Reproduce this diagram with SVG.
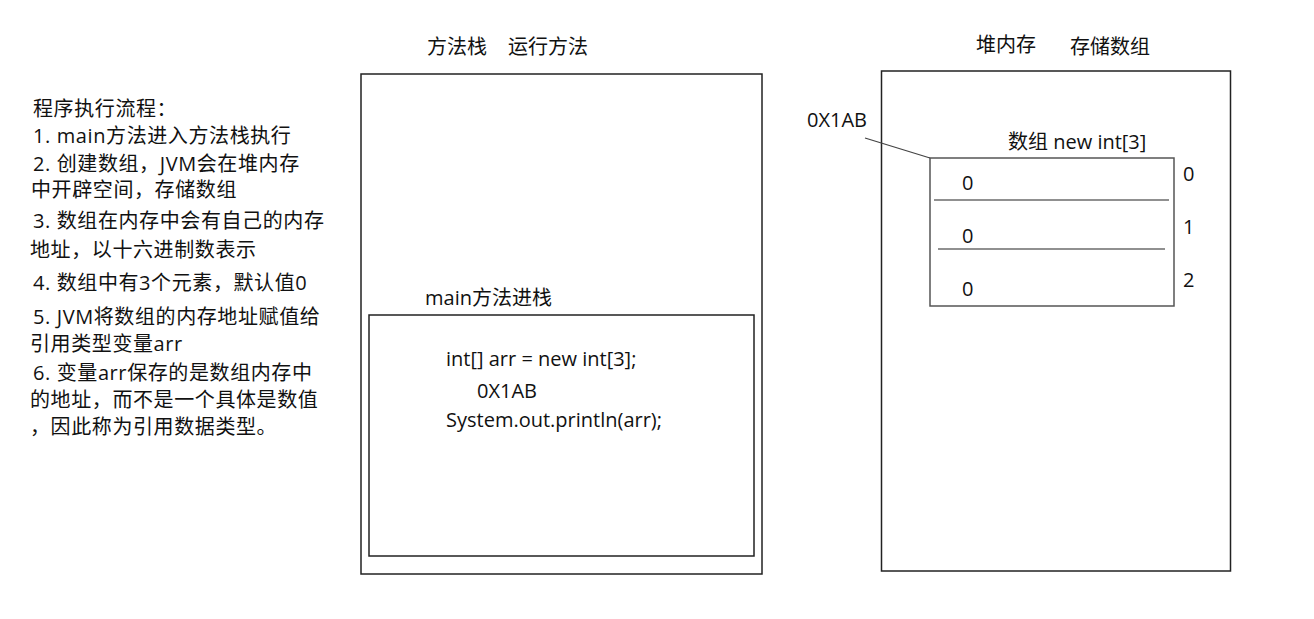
<svg xmlns="http://www.w3.org/2000/svg" width="1314" height="619" viewBox="0 0 1314 619">
<style>
text{font-family:"Open Sans","Noto Sans CJK SC",sans-serif;fill:#111;font-size:20px}
.l{font-size:20px;letter-spacing:0.6px}
.box{fill:none;stroke:#222;stroke-width:1.5}
.arr{fill:none;stroke:#555;stroke-width:1.5}
.sep{stroke:#222;stroke-width:1.2}
</style>
<rect width="1314" height="619" fill="#fff"/>
<g id="notes">
<text class="l" x="33" y="116">程序执行流程：</text>
<text class="l" x="33" y="143">1. main方法进入方法栈执行</text>
<text class="l" x="33" y="171">2. 创建数组，JVM会在堆内存</text>
<text class="l" x="31" y="197">中开辟空间，存储数组</text>
<text class="l" x="33" y="228">3. 数组在内存中会有自己的内存</text>
<text class="l" x="30" y="257">地址，以十六进制数表示</text>
<text class="l" x="33" y="290">4. 数组中有3个元素，默认值0</text>
<text class="l" x="33" y="324">5. JVM将数组的内存地址赋值给</text>
<text class="l" x="30" y="351">引用类型变量arr</text>
<text class="l" x="33" y="380">6. 变量arr保存的是数组内存中</text>
<text class="l" x="30" y="407">的地址，而不是一个具体是数值</text>
<text class="l" x="30" y="434">，因此称为引用数据类型。</text>
</g>
<g id="stack">
<text x="427" y="54">方法栈</text>
<text x="508" y="54">运行方法</text>
<rect class="box" x="361" y="74" width="401" height="500"/>
</g>
<g id="main-frame">
<text x="425" y="305">main方法进栈</text>
<rect class="box" x="369" y="315" width="385" height="241"/>
<text x="446" y="366" font-size="20.5">int[] arr = new int[3];</text>
<text x="477" y="398">0X1AB</text>
<text x="446" y="427">System.out.println(arr);</text>
</g>
<g id="heap">
<text x="976" y="52">堆内存</text>
<text x="1070" y="54">存储数组</text>
<rect class="box" x="881.5" y="71" width="349" height="500"/>
</g>
<g id="array">
<text x="1008" y="149">数组 new int[3]</text>
<rect class="arr" x="930" y="158" width="244" height="148"/>
<line class="sep" x1="934" y1="200" x2="1169" y2="200"/>
<line class="sep" x1="938" y1="249" x2="1165" y2="249" stroke="#555"/>
<text x="962" y="190">0</text>
<text x="962" y="243">0</text>
<text x="962" y="296">0</text>
<text x="1183" y="181">0</text>
<text x="1183" y="234">1</text>
<text x="1183" y="287">2</text>
</g>
<g id="address">
<text x="807" y="127">0X1AB</text>
</g>
<g id="connectors">
<line x1="865" y1="138" x2="930" y2="158" stroke="#444" stroke-width="1.2"/>
</g>
</svg>
